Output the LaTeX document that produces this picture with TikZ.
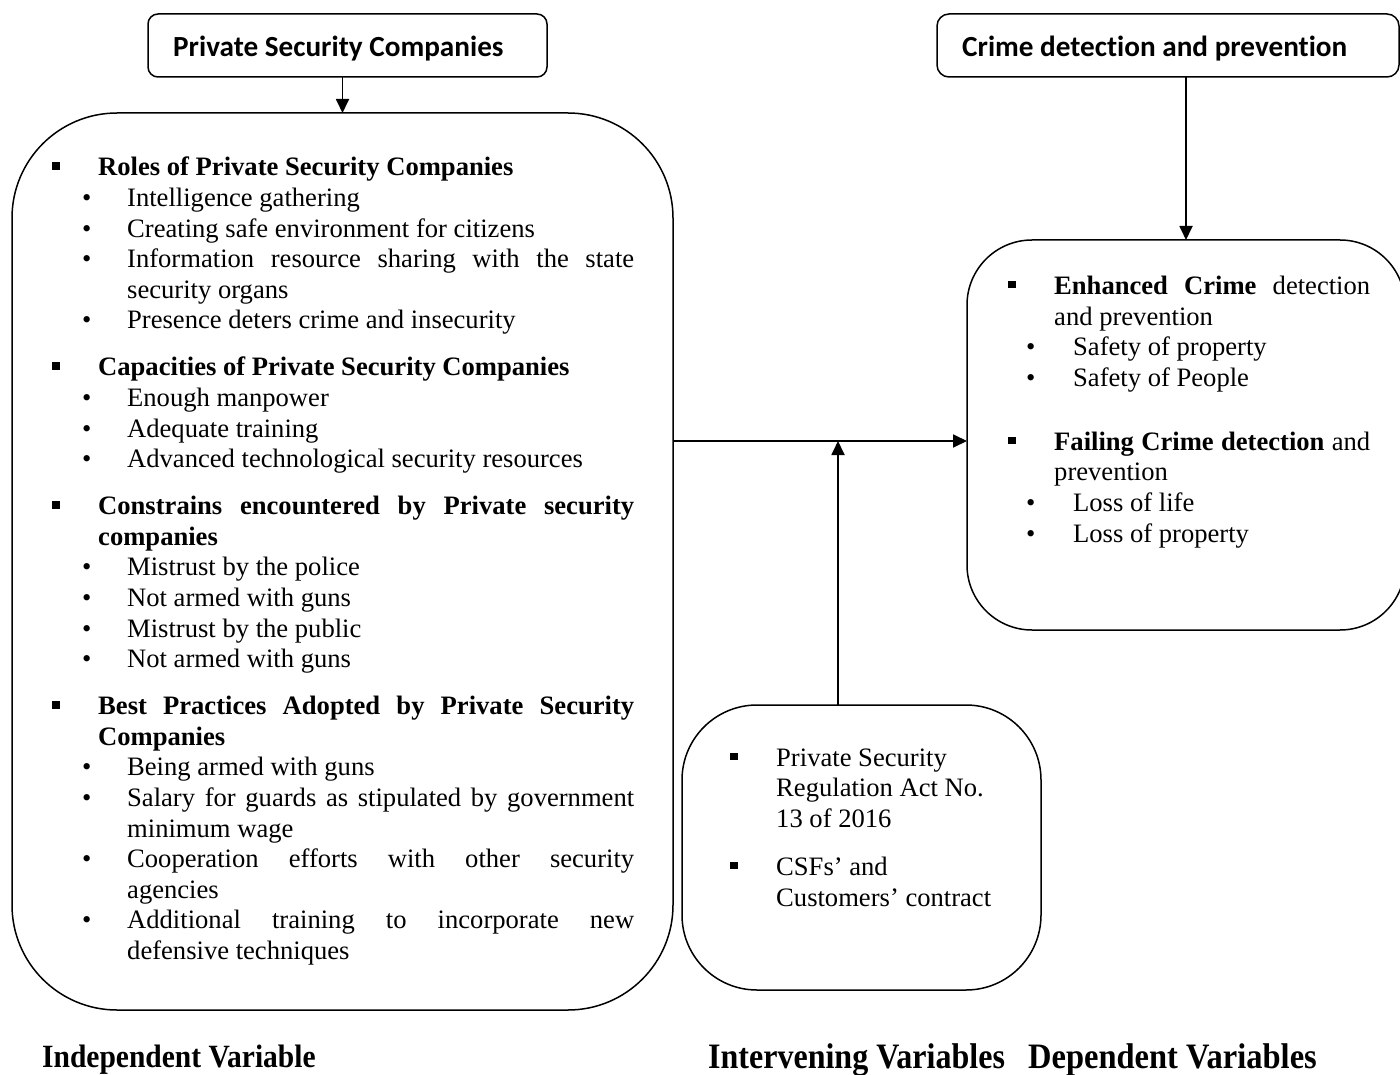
\documentclass[tikz,border=0pt]{standalone}
\usepackage{fontspec}
\setmainfont{Liberation Serif}
\newfontfamily\calfont[Ligatures=NoCommon]{Carlito}
\usetikzlibrary{arrows.meta}
\newcommand{\sqb}{\rule[6pt]{7.5pt}{7.5pt}}
\newcommand{\hditem}[2]{\par\leftskip=#1\relax\noindent\llap{\makebox[#1][l]{\sqb}}#2\par}
\newcommand{\rditem}[3]{\par\leftskip=#1\relax\noindent\llap{\makebox[#2][l]{•}}#3\par}
\newcommand{\blocksetup}[2]{\fontsize{#1}{#2}\selectfont\hyphenpenalty=10000\exhyphenpenalty=10000\tolerance=10000\hbadness=10000\parskip=0pt\parindent=0pt}
\tikzset{
  rbox/.style={draw, line width=1.5pt, rounded corners=#1, inner sep=0pt, outer sep=0pt},
  arr/.style={line width=1.8pt, -{Triangle[length=14pt,width=13pt]}},
  ttl/.style={inner sep=0pt, anchor=base west, font=\calfont\bfseries\fontsize{29.2}{35}\selectfont},
  blk/.style={inner sep=0pt, anchor=base west},
  lbl/.style={inner sep=0pt, anchor=base west}
}
\begin{document}
\begin{tikzpicture}[x=1pt,y=-1pt]
\fill[white] (0,0) rectangle (1400,1075);
\useasboundingbox (0,0) rectangle (1400,1075);

% boxes
\node[rbox=10pt, minimum width=399pt, minimum height=63pt] (tl) at (347.5,45.5) {};
\node[rbox=12pt, minimum width=462pt, minimum height=63pt] (tr) at (1168,45.5) {};
\node[rbox=105pt, minimum width=661pt, minimum height=897pt] (left) at (342.5,561.5) {};
\node[rbox=65pt, minimum width=438pt, minimum height=390pt] (right) at (1186,435) {};
\node[rbox=75pt, minimum width=359pt, minimum height=285pt] (mid) at (861.5,847.5) {};

% titles
\node[ttl] (tltext) at (173,57) {Private Security Companies};
\node[ttl] (trtext) at (962,57) {Crime detection and prevention};

% left block
\node[blk] (lefttext) at (52,176) {\begin{minipage}[t]{582pt}\blocksetup{26.6}{30.6}%
\hditem{46pt}{\textbf{Roles of Private Security Companies}}
\rditem{75pt}{45pt}{Intelligence gathering}
\rditem{75pt}{45pt}{Creating safe environment for citizens}
\rditem{75pt}{45pt}{Information resource sharing with the state\linebreak security organs}
\rditem{75pt}{45pt}{Presence deters crime and insecurity}
\vspace{16.4pt}
\hditem{46pt}{\textbf{Capacities of Private Security Companies}}
\rditem{75pt}{45pt}{Enough manpower}
\rditem{75pt}{45pt}{Adequate training}
\rditem{75pt}{45pt}{Advanced technological security resources}
\vspace{16.4pt}
\hditem{46pt}{\textbf{Constrains encountered by Private security\linebreak companies}}
\rditem{75pt}{45pt}{Mistrust by the police}
\rditem{75pt}{45pt}{Not armed with guns}
\rditem{75pt}{45pt}{Mistrust by the public}
\rditem{75pt}{45pt}{Not armed with guns}
\vspace{16.4pt}
\hditem{46pt}{\textbf{Best Practices Adopted by Private Security\linebreak Companies}}
\rditem{75pt}{45pt}{Being armed with guns}
\rditem{75pt}{45pt}{Salary for guards as stipulated by government\linebreak minimum wage}
\rditem{75pt}{45pt}{Cooperation efforts with other security\linebreak agencies}
\rditem{75pt}{45pt}{Additional training to incorporate new\linebreak defensive techniques}
\end{minipage}};

% right block
\node[blk] (righttext) at (1008,294.5) {\begin{minipage}[t]{362pt}\blocksetup{26.6}{30.7}%
\hditem{46pt}{\textbf{Enhanced Crime} detection\linebreak and prevention}
\rditem{65pt}{47pt}{Safety of property}
\rditem{65pt}{47pt}{Safety of People}
\vspace{33pt}
\hditem{46pt}{\textbf{Failing Crime detection} and\linebreak prevention}
\rditem{65pt}{47pt}{Loss of life}
\rditem{65pt}{47pt}{Loss of property}
\end{minipage}};

% middle block
\node[blk] (midtext) at (730,766) {\begin{minipage}[t]{310pt}\blocksetup{26.6}{30.9}\raggedright
\hditem{46pt}{Private Security\\Regulation Act No.\\13 of 2016}
\vspace{16.5pt}
\hditem{46pt}{CSFs’ and\\Customers’ contract}
\end{minipage}};

% bottom labels
\node[lbl] (indep) at (42,1067) {\scalebox{1}[1.1]{\bfseries\fontsize{29.5}{35}\selectfont Independent Variable}};
\node[lbl] (interv) at (708,1068) {\scalebox{0.985}[1.1]{\bfseries\fontsize{32.5}{38}\selectfont Intervening Variables}};
\node[lbl] (dep) at (1028,1068) {\scalebox{1}[1.1]{\bfseries\fontsize{32.5}{38}\selectfont Dependent Variables}};

% connectors
\coordinate (j) at (838,441);
\draw[arr] (left.north |- tl.south) -- (left.north);
\draw[arr] (right.north |- tr.south) -- (right.north);
\draw[arr] (left.east |- j) -- (right.west |- j);
\draw[arr] (j |- mid.north) -- (j);
\end{tikzpicture}
\end{document}
